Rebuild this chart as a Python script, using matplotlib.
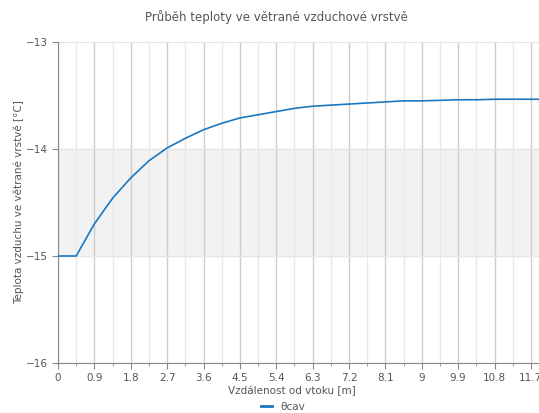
import numpy as np
import matplotlib.pyplot as plt
from matplotlib.ticker import MultipleLocator
from matplotlib.lines import Line2D

# Vzdálenost od vtoku [m] a teplota vzduchu v mezeře [°C]
vzdalenost = [0.0, 0.45, 0.9, 1.35, 1.8, 2.25, 2.7, 3.15, 3.6, 4.05, 4.5, 4.95,
              5.4, 5.85, 6.3, 6.75, 7.2, 7.65, 8.1, 8.55, 9.0, 9.45, 9.9,
              10.35, 10.8, 11.25, 11.7, 11.9]
teplota = [-15.00, -15.00, -14.70, -14.46, -14.27, -14.11, -13.99, -13.90,
           -13.82, -13.76, -13.71, -13.68, -13.65, -13.62, -13.60, -13.59,
           -13.58, -13.57, -13.56, -13.55, -13.55, -13.545, -13.54, -13.54,
           -13.535, -13.535, -13.535, -13.535]

pasmo = (-15, -14)          # zvýrazněné pásmo
x_ticks = np.round(np.arange(0, 12.0, 0.9), 1)
y_ticks = [-16, -15, -14, -13]

fig = plt.figure(figsize=(5.39, 4.13), dpi=100)
ax = fig.add_axes([58 / 539, 1 - 363 / 413, 1 - 58 / 539, 321 / 413])

seda = '#555555'
ax.axhspan(pasmo[0], pasmo[1], color='#f2f2f2', zorder=0)

ax.plot(vzdalenost, teplota, color='#1a78c2', lw=1.2, zorder=3)

ax.set_xlim(0, 11.9)
ax.set_ylim(-16, -13)
ax.set_xticks(x_ticks)
ax.set_xticklabels([f'{t:g}' for t in x_ticks])
ax.xaxis.set_minor_locator(MultipleLocator(0.45))
ax.set_yticks(y_ticks)

ax.grid(axis='x', which='major', color='#cccccc', lw=1)
ax.grid(axis='x', which='minor', color='#e8e8e8', lw=1)
ax.grid(axis='y', which='major', color='#e6e6e6', lw=1)

for s in ['top', 'right']:
    ax.spines[s].set_visible(False)
for s in ['left', 'bottom']:
    ax.spines[s].set_color('#888888')

ax.tick_params(axis='both', which='major', labelsize=7.5, colors='#888888',
               labelcolor=seda, length=4, pad=3)
ax.tick_params(axis='x', which='minor', colors='#888888', length=2)

ax.set_xlabel('Vzdálenost od vtoku [m]', fontsize=7.5, color=seda)
ax.xaxis.set_label_coords(0.486, -0.072)
ax.set_ylabel('Teplota vzduchu ve větrané vrstvě [°C]', fontsize=7.5, color=seda)
ax.yaxis.set_label_coords(-0.071, 0.5)

fig.text(0.512, 1 - 17 / 413, 'Průběh teploty ve větrané vzduchové vrstvě',
         ha='center', va='center', fontsize=8.5, color=seda)

# legenda pod grafem
handle = Line2D([], [], color='#1a78c2', lw=2)
fig.legend([handle], ['θcav'], loc='center', bbox_to_anchor=(0.525, 1 - 407 / 413),
           frameon=False, fontsize=7.5, handlelength=1.0, handletextpad=0.8,
           labelcolor=seda)

fig.savefig('out.png', dpi=100)
